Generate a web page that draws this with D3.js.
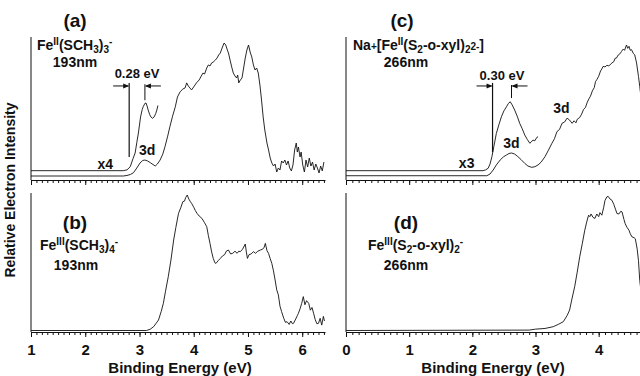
<!DOCTYPE html>
<html>
<head>
<meta charset="utf-8">
<script src="https://cdn.jsdelivr.net/npm/d3@7"></script>
<style>
  body { margin: 0; background: #fff; }
  svg { display: block; font-family: "Liberation Sans", Arial, sans-serif; font-weight: bold; }
</style>
</head>
<body>
<div id="chart"></div>
<script>
// spectra: [binding energy (eV), relative intensity]
const specA = [[1.0,0],[2.70,0],[2.77,0.4],[2.83,1.1],[2.89,2.5],[2.95,6],[3.01,9.8],[3.06,11.7],[3.10,12],[3.15,11.3],[3.20,10],[3.25,8.6],[3.29,7.5],[3.33,9],[3.38,12],[3.43,16.5],[3.47,22],[3.52,30],[3.56,37],[3.61,45],[3.66,52],[3.70,59.4],[3.75,63.4],[3.80,65.4],[3.84,66.2],[3.87,70],[3.90,67.7],[3.93,66.2],[3.96,64.7],[4.00,67],[4.05,70],[4.10,72.2],[4.14,75.2],[4.17,77.4],[4.20,76.7],[4.24,81.2],[4.27,83.5],[4.30,82.7],[4.33,85],[4.36,85.7],[4.40,87.2],[4.43,88.7],[4.46,91],[4.49,92.5],[4.53,97],[4.56,100],[4.59,98.5],[4.62,94.7],[4.64,92.5],[4.67,87.2],[4.70,82],[4.73,77.4],[4.76,75.2],[4.79,73.7],[4.81,75.9],[4.83,70],[4.86,72.2],[4.89,73.7],[4.92,81.2],[4.95,88.7],[4.98,94.7],[5.01,98.5],[5.04,93.2],[5.07,89.5],[5.10,83.5],[5.13,79.7],[5.16,81.2],[5.19,77.4],[5.22,68.4],[5.25,57.1],[5.28,44.4],[5.31,34.6],[5.35,24.8],[5.38,19.5],[5.41,13.5],[5.44,9.8],[5.47,7.5],[5.50,9],[5.53,3],[5.56,6],[5.59,4.5],[5.62,11.3],[5.65,9.8],[5.68,12],[5.71,8.3],[5.74,11.3],[5.77,6],[5.80,3.8],[5.83,8.3],[5.86,19.5],[5.89,24.8],[5.91,18],[5.93,21.8],[5.96,14.3],[5.98,18],[6.01,8.3],[6.04,3],[6.07,12],[6.10,6.8],[6.13,13.5],[6.16,7.5],[6.19,10.5],[6.22,4.5],[6.25,9],[6.28,6],[6.31,2.3],[6.34,7.5],[6.37,3.8],[6.40,10.5]];
const specAx4 = [[1.0,4],[2.70,4],[2.77,4.6],[2.83,7],[2.88,13],[2.92,17.3],[2.95,25],[2.98,32.3],[3.02,44.4],[3.05,50],[3.07,52.2],[3.10,54.6],[3.12,54.9],[3.14,52.6],[3.16,49.6],[3.19,46],[3.21,44.4],[3.24,43.4],[3.27,44.4],[3.30,47],[3.32,49.6],[3.34,53]];
const specB = [[1.0,0],[3.13,0],[3.20,1],[3.26,2.8],[3.31,5.5],[3.35,7.7],[3.40,14],[3.44,20],[3.48,29],[3.53,39.6],[3.58,52],[3.63,66.8],[3.67,76],[3.72,86.5],[3.76,90.5],[3.80,95.1],[3.83,95.5],[3.85,98],[3.88,100],[3.91,97],[3.94,95],[3.96,93.9],[4.00,91],[4.03,88.5],[4.06,86.5],[4.10,84.5],[4.15,82.8],[4.20,79.5],[4.24,76.6],[4.27,70],[4.30,64.3],[4.33,58],[4.36,53.2],[4.39,50],[4.41,49.5],[4.45,51.5],[4.49,53.2],[4.53,55],[4.57,56],[4.60,58.5],[4.64,59.4],[4.68,56.5],[4.72,57],[4.76,58.5],[4.80,57],[4.83,58.5],[4.86,58.2],[4.90,60],[4.95,63.8],[4.97,58],[4.99,53.2],[5.02,56],[5.06,56.5],[5.10,58.2],[5.14,57],[5.18,58.5],[5.23,59.4],[5.27,60],[5.30,61.5],[5.32,64.3],[5.35,59],[5.38,56.8],[5.41,53],[5.44,49.5],[5.47,44],[5.50,37.3],[5.53,30],[5.56,26.3],[5.59,18],[5.62,13.9],[5.66,9],[5.69,6],[5.72,6.5],[5.76,4.5],[5.79,7],[5.82,5],[5.84,5.3],[5.88,8.5],[5.91,11],[5.93,12.7],[5.96,16],[5.99,20],[6.02,25],[6.05,19],[6.08,22],[6.12,20],[6.15,15],[6.18,17],[6.21,12.7],[6.24,8],[6.27,5],[6.30,5.3],[6.33,9],[6.36,4],[6.39,10.4],[6.41,7]];
const specC = [[0,0.2],[2.23,0.2],[2.28,1.5],[2.33,4.5],[2.38,8.3],[2.44,12],[2.49,14.3],[2.54,15.8],[2.58,16.9],[2.62,17.3],[2.67,16.5],[2.72,14.6],[2.77,12.4],[2.83,9.5],[2.88,7.5],[2.94,6.5],[2.99,7],[3.04,8.3],[3.09,10.5],[3.15,14.5],[3.20,19],[3.26,24.6],[3.30,28],[3.34,33.4],[3.38,35],[3.42,39.6],[3.46,40.6],[3.50,43.5],[3.54,42],[3.58,39.6],[3.61,41.5],[3.64,40],[3.66,42.6],[3.70,44],[3.73,46.5],[3.76,50],[3.79,51.5],[3.82,55.5],[3.85,58.4],[3.87,60],[3.90,64],[3.93,66.5],[3.95,71],[3.97,72.4],[4.00,75],[4.03,79],[4.05,80.5],[4.07,82.4],[4.10,82],[4.13,83.2],[4.16,82.8],[4.18,83.6],[4.21,85],[4.24,86],[4.26,88.5],[4.28,88.6],[4.31,91],[4.34,92],[4.36,93.6],[4.39,95.5],[4.41,94.5],[4.44,98.5],[4.46,96],[4.48,97.5],[4.50,94.5],[4.52,95],[4.55,92],[4.57,91.2],[4.60,85],[4.63,74.9],[4.65,67.4],[4.68,55]];
const specCx3 = [[0,4],[2.17,4],[2.21,4.6],[2.25,5.8],[2.28,9],[2.31,14.5],[2.34,22],[2.38,32],[2.42,38.5],[2.46,44.5],[2.50,49],[2.54,52],[2.57,54.5],[2.60,55.8],[2.63,53.5],[2.67,49.6],[2.71,45],[2.75,39.6],[2.79,35.5],[2.83,30.8],[2.87,27.5],[2.91,24.6],[2.93,25.5],[2.96,27],[2.99,26.5],[3.02,29],[3.04,29.5]];
const specD = [[0,0],[2.90,0.3],[3.00,1],[3.15,1.5],[3.28,2.8],[3.36,4.5],[3.44,6.5],[3.50,11],[3.54,15.1],[3.58,24],[3.62,32.3],[3.66,43],[3.70,54.4],[3.74,64],[3.78,74],[3.81,80],[3.84,85.1],[3.86,84],[3.88,86],[3.91,83.5],[3.94,82.7],[3.97,86],[4.00,84],[4.02,87],[4.05,85.1],[4.08,91],[4.10,96],[4.13,98.6],[4.15,99],[4.18,97],[4.21,96.1],[4.24,93],[4.27,89],[4.29,86.3],[4.32,86],[4.35,88],[4.37,87.5],[4.40,82],[4.42,78.8],[4.45,76],[4.48,74],[4.50,71.4],[4.53,69],[4.56,68.5],[4.58,67.7],[4.61,60],[4.63,51.6],[4.65,37],[4.68,25]];

const leftTicks = [1, 2, 3, 4, 5, 6];
const rightTicks = [0, 1, 2, 3, 4];
// onset and 3d peak positions marked with the gap arrows
const gapA = [2.81, 3.10];
const gapC = [2.32, 2.62];

const W = 640, H = 376;
const svg = d3.select("#chart").append("svg").attr("width", W).attr("height", H);

const xLeft = d3.scaleLinear().domain([1, 6.42]).range([31, 325]);
const xRight = d3.scaleLinear().domain([0, 4.67]).range([346, 641]);
const yTop = d3.scaleLinear().domain([0, 100]).range([176, 43]);
const yBot = d3.scaleLinear().domain([0, 100]).range([330.5, 195]);

const panels = [
  { x: xLeft, y: yTop, axisY: 180, top: 37, ticks: leftTicks, labels: false, specs: [specA, specAx4] },
  { x: xLeft, y: yBot, axisY: 332, top: 193, ticks: leftTicks, labels: true, specs: [specB] },
  { x: xRight, y: yTop, axisY: 180, top: 37, ticks: rightTicks, labels: false, specs: [specC, specCx3] },
  { x: xRight, y: yBot, axisY: 332, top: 193, ticks: rightTicks, labels: true, specs: [specD] },
];

panels.forEach((p) => {
  const d0 = p.x.domain();
  const minor = d3.range(Math.ceil(d0[0] * 10), Math.floor(d0[1] * 10) + 1).map((v) => v / 10);

  svg.append("g")
    .attr("transform", `translate(0,${p.axisY})`)
    .call(d3.axisBottom(p.x).tickValues(minor).tickSize(3).tickSizeOuter(0).tickFormat(""))
    .call((g) => g.selectAll("line,path").attr("stroke", "#111"));

  const major = svg.append("g")
    .attr("transform", `translate(0,${p.axisY})`)
    .call(d3.axisBottom(p.x).tickValues(p.ticks).tickSize(5).tickSizeOuter(0).tickPadding(7)
      .tickFormat(p.labels ? d3.format("d") : ""));
  major.select(".domain").remove();
  major.selectAll("line").attr("stroke", "#111");
  major.selectAll("text")
    .attr("fill", "#111")
    .attr("font-size", 15)
    .attr("font-weight", "bold")
    .attr("font-family", "'Liberation Sans', Arial, sans-serif");

  // left axis line
  svg.append("line")
    .attr("x1", p.x.range()[0]).attr("x2", p.x.range()[0])
    .attr("y1", p.top).attr("y2", p.axisY)
    .attr("stroke", "#111");

  const line = d3.line().x((d) => p.x(d[0])).y((d) => p.y(d[1]));
  p.specs.forEach((s) => {
    svg.append("path")
      .datum(s)
      .attr("d", line)
      .attr("fill", "none")
      .attr("stroke", "#111")
      .attr("stroke-width", 0.9);
  });
});

// gap markers with arrows
function gapMarker(x, y, gap, longTop, longBot, shortTop, shortBot, arrowI, label, labelI) {
  const g = svg.append("g").attr("stroke", "#111").attr("fill", "#111");
  g.append("line").attr("x1", x(gap[0])).attr("x2", x(gap[0])).attr("y1", y(longTop)).attr("y2", y(longBot)).attr("stroke-width", 1.2);
  g.append("line").attr("x1", x(gap[1])).attr("x2", x(gap[1])).attr("y1", y(shortTop)).attr("y2", y(shortBot)).attr("stroke-width", 1);
  const ay = y(arrowI);
  [[x(gap[0]), -1], [x(gap[1]), 1]].forEach(([ax, dir]) => {
    g.append("line").attr("x1", ax + dir * 16).attr("x2", ax + dir * 1).attr("y1", ay).attr("y2", ay).attr("stroke-width", 1);
    g.append("path")
      .attr("d", `M${ax},${ay} l${dir * 6},-2.5 l0,5 z`)
      .attr("stroke", "none");
  });
  svg.append("text")
    .attr("x", (x(gap[0]) + x(gap[1])) / 2)
    .attr("y", y(labelI) + 5)
    .attr("text-anchor", "middle")
    .attr("font-size", 13)
    .attr("fill", "#111")
    .text(label);
}
gapMarker(xLeft, yTop, gapA, 70, 14.3, 69, 57, 67.7, "0.28 eV", 77.4);
gapMarker(xRight, yTop, gapC, 70, 18, 68.4, 58.6, 67.7, "0.30 eV", 76);

// in-plot annotations
const notes = [
  { x: xLeft, y: yTop, e: 2.37, i: 5.3, t: "x4" },
  { x: xLeft, y: yTop, e: 3.14, i: 15.8, t: "3d" },
  { x: xRight, y: yTop, e: 1.91, i: 6, t: "x3" },
  { x: xRight, y: yTop, e: 2.62, i: 21, t: "3d" },
  { x: xRight, y: yTop, e: 3.41, i: 47.4, t: "3d" },
];
notes.forEach((n) => {
  svg.append("text")
    .attr("x", n.x(n.e)).attr("y", n.y(n.i))
    .attr("text-anchor", "middle")
    .attr("font-size", 14)
    .attr("fill", "#111")
    .text(n.t);
});

// panel titles
function title(cx, by, letter) {
  svg.append("text").attr("x", cx).attr("y", by).attr("text-anchor", "middle")
    .attr("font-size", 19).attr("fill", "#111").text(letter);
}
function formula(x, by, parts) {
  const t = svg.append("text").attr("x", x).attr("y", by).attr("font-size", 14).attr("fill", "#111");
  let shift = 0;
  parts.forEach(([s, kind]) => {
    const target = kind === "sup" ? -5 : kind === "sub" ? 3 : 0;
    t.append("tspan")
      .attr("dy", target - shift)
      .attr("font-size", kind ? 10 : 14)
      .text(s);
    shift = target;
  });
}
function wave(cx, by, s) {
  svg.append("text").attr("x", cx).attr("y", by).attr("text-anchor", "middle")
    .attr("font-size", 14).attr("fill", "#111").text(s);
}

title(75, 27, "(a)");
formula(37, 50, [["Fe"], ["II", "sup"], ["(SCH"], ["3", "sub"], [")"], ["3", "sub"], ["-", "sup"]]);
wave(75, 67, "193nm");

title(75, 229, "(b)");
formula(40, 250, [["Fe"], ["III", "sup"], ["(SCH"], ["3", "sub"], [")"], ["4", "sub"], ["-", "sup"]]);
wave(76, 270, "193nm");

title(402, 27, "(c)");
formula(353, 50, [["Na"], ["+", "sub0"], ["[Fe"], ["II", "sup"], ["(S"], ["2", "sub"], ["-o-xyl)"], ["2", "sub"], ["2-", "sub0"], ["]"]]);
wave(406, 67, "266nm");

title(406, 229, "(d)");
formula(368, 250, [["Fe"], ["III", "sup"], ["(S"], ["2", "sub"], ["-o-xyl)"], ["2", "sub"], ["-", "sup"]]);
wave(406, 270, "266nm");

// axis titles
svg.append("text")
  .attr("transform", "translate(15,190) rotate(-90)")
  .attr("text-anchor", "middle")
  .attr("font-size", 14)
  .attr("fill", "#111")
  .text("Relative Electron Intensity");
[180, 493].forEach((cx) => {
  svg.append("text")
    .attr("x", cx).attr("y", 373)
    .attr("text-anchor", "middle")
    .attr("font-size", 15)
    .attr("fill", "#111")
    .text("Binding Energy (eV)");
});
</script>
</body>
</html>
